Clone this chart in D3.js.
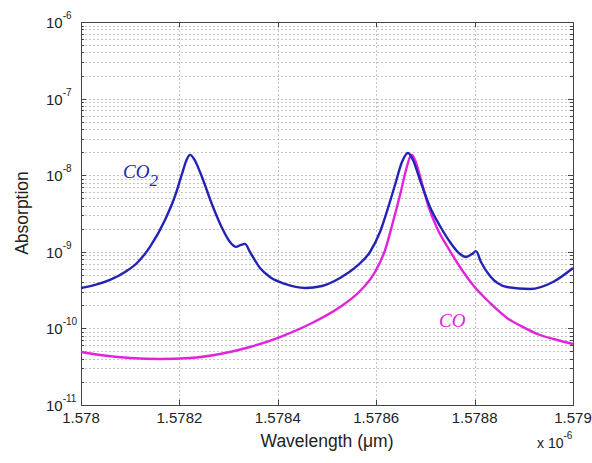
<!DOCTYPE html>
<html>
<head>
<meta charset="utf-8">
<script src="https://cdn.jsdelivr.net/npm/d3@7/dist/d3.min.js"></script>
<style>
  body { margin: 0; background: #fff; }
  svg { display: block; }
</style>
</head>
<body>
<svg id="chart" width="592" height="463"></svg>
<script>
// Absorption spectra near 1.5786 µm (wavelength in µm, absorption unitless)
const co2Wavelength = [
  1.578000, 1.5780285, 1.5780589, 1.5780894, 1.5781138, 1.5781402, 1.5781707,
  1.5781911, 1.5782053, 1.5782154, 1.5782215, 1.5782297, 1.5782419, 1.5782683,
  1.5782866, 1.5783028, 1.5783150, 1.5783252, 1.5783333, 1.5783435, 1.5783638,
  1.5783841, 1.5784146, 1.5784553, 1.5784898, 1.5785264, 1.5785610, 1.5785874,
  1.5786077, 1.5786240, 1.5786382, 1.5786524, 1.5786646, 1.5786748, 1.5786890,
  1.5787093, 1.5787297, 1.5787500, 1.5787703, 1.5787825, 1.5787947, 1.5788028,
  1.5788130, 1.5788313, 1.5788659, 1.5789126, 1.5789593, 1.5790000
];
const co2Absorption = [
  3.37e-10, 3.69e-10, 4.29e-10, 5.45e-10, 7.14e-10, 1.16e-9, 2.60e-9,
  5.35e-9, 1.04e-8, 1.63e-8, 1.84e-8, 1.63e-8, 1.10e-8, 3.85e-9,
  2.05e-9, 1.34e-9, 1.16e-9, 1.23e-9, 1.27e-9, 9.94e-10, 6.15e-10,
  4.69e-10, 3.80e-10, 3.37e-10, 3.58e-10, 4.55e-10, 6.53e-10, 9.94e-10,
  1.81e-9, 3.73e-9, 7.45e-9, 1.49e-8, 1.95e-8, 1.58e-8, 8.65e-9,
  3.85e-9, 2.17e-9, 1.34e-9, 9.35e-10, 8.55e-10, 9.35e-10, 1.02e-9,
  7.36e-10, 4.83e-10, 3.47e-10, 3.27e-10, 4.04e-10, 6.15e-10
];

const coWavelength = [
  1.578000, 1.5780386, 1.5780996, 1.5781606, 1.5782215, 1.5782825, 1.5783435,
  1.5784045, 1.5784654, 1.5785264, 1.5785671, 1.5785976, 1.5786180, 1.5786341,
  1.5786484, 1.5786606, 1.5786687, 1.5786728, 1.5786789, 1.5786890, 1.5787053,
  1.5787236, 1.5787439, 1.5787703, 1.5787967, 1.5788313, 1.5788659, 1.5789024,
  1.5789330, 1.5789675, 1.5790000
];
const coAbsorption = [
  4.92e-11, 4.50e-11, 4.11e-11, 3.99e-11, 4.11e-11, 4.64e-11, 5.72e-11,
  7.72e-11, 1.14e-10, 1.90e-10, 3.08e-10, 5.45e-10, 1.05e-9, 2.45e-9,
  5.52e-9, 1.17e-8, 1.73e-8, 1.84e-8, 1.58e-8, 9.77e-9, 4.08e-9,
  2.05e-9, 1.19e-9, 6.34e-10, 3.69e-10, 2.15e-10, 1.37e-10, 1.01e-10,
  8.20e-11, 7.06e-11, 6.25e-11
];

const xTicks = [1.578, 1.5782, 1.5784, 1.5786, 1.5788, 1.579];
const xTickLabels = ["1.578", "1.5782", "1.5784", "1.5786", "1.5788", "1.579"];
const yExponents = [-11, -10, -9, -8, -7, -6];
const yTickLabels = ["-11", "-10", "-9", "-8", "-7", "-6"];

const svg = d3.select("#chart");
const plot = { left: 81, right: 573, top: 22, bottom: 405 };

const x = d3.scaleLinear().domain([1.578, 1.579]).range([plot.left, plot.right]);
const y = d3.scaleLog().domain([1e-11, 1e-6]).range([plot.bottom, plot.top]);

// minor values 2..9 in every decade
const minorVals = [];
for (let e = -11; e < -6; e++) {
  for (let k = 2; k <= 9; k++) minorVals.push(k * Math.pow(10, e));
}
const majorVals = yExponents.map(e => Math.pow(10, e));

const grid = svg.append("g").attr("stroke", "#c4c4c4").attr("stroke-width", 1)
  .attr("stroke-dasharray", "2,2").attr("fill", "none");

grid.selectAll("line.hy").data(minorVals.concat(majorVals.slice(1, -1))).join("line")
  .attr("x1", plot.left).attr("x2", plot.right)
  .attr("y1", d => Math.round(y(d)) + 0.5).attr("y2", d => Math.round(y(d)) + 0.5);

grid.selectAll("line.vx").data(xTicks.slice(1, -1)).join("line")
  .attr("y1", plot.top).attr("y2", plot.bottom)
  .attr("x1", d => Math.round(x(d)) + 0.5).attr("x2", d => Math.round(x(d)) + 0.5);

// tick marks pointing inward on all four sides
const ticks = svg.append("g").attr("stroke", "#444").attr("stroke-width", 1);
const yAll = majorVals.map(v => ({ v, len: 5 })).concat(minorVals.map(v => ({ v, len: 3 })));
ticks.selectAll("line.yl").data(yAll).join("line")
  .attr("x1", plot.left).attr("x2", d => plot.left + d.len)
  .attr("y1", d => Math.round(y(d.v)) + 0.5).attr("y2", d => Math.round(y(d.v)) + 0.5);
ticks.selectAll("line.yr").data(yAll).join("line")
  .attr("x1", plot.right).attr("x2", d => plot.right - d.len)
  .attr("y1", d => Math.round(y(d.v)) + 0.5).attr("y2", d => Math.round(y(d.v)) + 0.5);
ticks.selectAll("line.xb").data(xTicks).join("line")
  .attr("x1", d => Math.round(x(d)) + 0.5).attr("x2", d => Math.round(x(d)) + 0.5)
  .attr("y1", plot.bottom).attr("y2", plot.bottom - 5);
ticks.selectAll("line.xt").data(xTicks).join("line")
  .attr("x1", d => Math.round(x(d)) + 0.5).attr("x2", d => Math.round(x(d)) + 0.5)
  .attr("y1", plot.top).attr("y2", plot.top + 5);

// axes box
svg.append("rect")
  .attr("x", plot.left + 0.5).attr("y", plot.top + 0.5)
  .attr("width", plot.right - plot.left).attr("height", plot.bottom - plot.top)
  .attr("fill", "none").attr("stroke", "#444").attr("stroke-width", 1);

// spectra
const line = d3.line().x(d => x(d[0])).y(d => y(d[1])).curve(d3.curveMonotoneX);
const coPts = coWavelength.map((w, i) => [w, coAbsorption[i]]);
const co2Pts = co2Wavelength.map((w, i) => [w, co2Absorption[i]]);

svg.append("path").datum(coPts).attr("d", line)
  .attr("fill", "none").attr("stroke", "#e024dc").attr("stroke-width", 2.4)
  .attr("stroke-linejoin", "round");
svg.append("path").datum(co2Pts).attr("d", line)
  .attr("fill", "none").attr("stroke", "#2424b4").attr("stroke-width", 2.4)
  .attr("stroke-linejoin", "round");

// y tick labels 10^n
const font = "Arial, 'Liberation Sans', Helvetica, sans-serif";
const yl = svg.append("g").attr("font-family", font).attr("fill", "#222");
yExponents.forEach((e, i) => {
  const t = yl.append("text")
    .attr("x", 46).attr("y", y(Math.pow(10, e)) + 6)
    .attr("font-size", 15);
  t.append("tspan").text("10");
  t.append("tspan").attr("dy", -9).attr("font-size", 10).text(yTickLabels[i]);
});

// x tick labels
svg.append("g").attr("font-family", font).attr("fill", "#222").attr("font-size", 15)
  .attr("text-anchor", "middle")
  .selectAll("text").data(xTicks).join("text")
  .attr("x", d => x(d)).attr("y", 423)
  .text((d, i) => xTickLabels[i]);

// axis multiplier
const mult = svg.append("text").attr("x", 537).attr("y", 448)
  .attr("font-family", font).attr("font-size", 14).attr("fill", "#222");
mult.append("tspan").text("x 10");
mult.append("tspan").attr("dy", -9).attr("font-size", 10).text("-6");

// axis titles
svg.append("text").attr("x", 327).attr("y", 447)
  .attr("text-anchor", "middle").attr("font-family", font).attr("font-size", 17.5)
  .attr("fill", "#222").text("Wavelength (μm)");
svg.append("text")
  .attr("transform", "translate(28,213) rotate(-90)")
  .attr("text-anchor", "middle").attr("font-family", font).attr("font-size", 17.5)
  .attr("fill", "#222").text("Absorption");

// series labels
const serif = "'Liberation Serif', 'Times New Roman', serif";
const co2Label = svg.append("text").attr("x", 123).attr("y", 178)
  .attr("font-family", serif).attr("font-style", "italic").attr("font-size", 19)
  .attr("fill", "#2424b4");
co2Label.append("tspan").text("CO");
co2Label.append("tspan").attr("dy", 8).attr("font-size", 17).text("2");

svg.append("text").attr("x", 439).attr("y", 327)
  .attr("font-family", serif).attr("font-style", "italic").attr("font-size", 19)
  .attr("fill", "#e024dc").text("CO");
</script>
</body>
</html>
